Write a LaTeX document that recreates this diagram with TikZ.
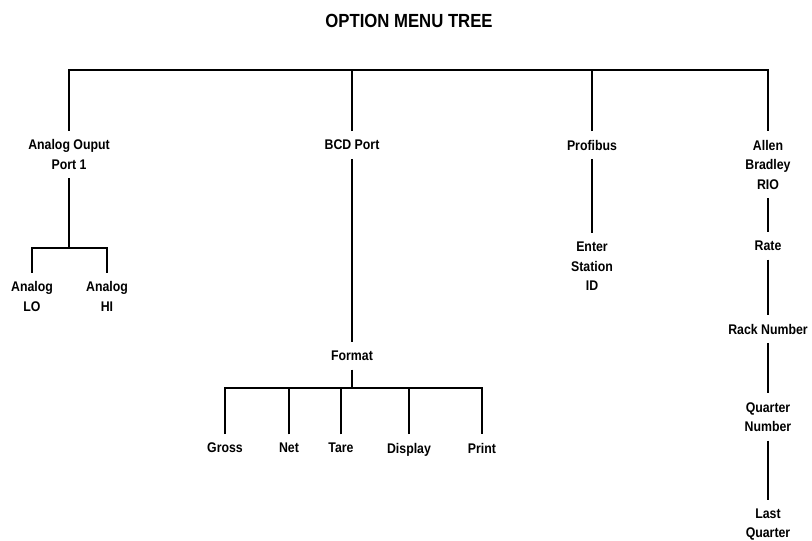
\documentclass[tikz,border=0pt]{standalone}
\usepackage{fontspec}
\setmainfont{Liberation Sans}[FakeStretch=0.88]
\usepackage{tikz}

\begin{document}
\begin{tikzpicture}[x=1pt, y=-1pt, line width=1.8pt,
        lbl/.style={align=center, inner xsep=2pt, inner ysep=8pt,
            font=\bfseries\fontsize{14}{19.5}\selectfont},
        lbleins/.style={lbl, text depth=0pt}]
            \useasboundingbox (0,0) rectangle (812,541);

            % Titel.
            \node[font=\bfseries\fontsize{19}{22}\selectfont] (titel) at (409,21) {OPTION MENU TREE};

            % Knoten.
            \node[lbl]     (ao)    at (69,154.5)  {Analog Ouput\\Port 1};
            \node[lbleins] (bcd)   at (352,145)   {BCD Port};
            \node[lbleins] (prof)  at (592,145)   {Profibus};
            \node[lbl]     (ab)    at (768,164.5) {Allen\\Bradley\\RIO};

            \node[lbl]     (alo)   at (32,296.5)  {Analog\\LO};
            \node[lbl]     (ahi)   at (107,296.5) {Analog\\HI};

            \node[lbleins] (fmt)   at (352,356)   {Format};
            \node[lbleins] (gross) at (225,448)   {Gross};
            \node[lbleins] (net)   at (289,448)   {Net};
            \node[lbleins] (tare)  at (341,448)   {Tare};
            \node[lbleins] (disp)  at (409,448)   {Display};
            \node[lbleins] (print) at (482,448)   {Print};

            \node[lbl]     (sid)   at (592,266.5) {Enter\\Station\\ID};

            \node[lbleins] (rate)  at (768,246)   {Rate};
            \node[lbleins] (rack)  at (768,329)   {Rack Number};
            \node[lbl]     (qn)    at (768,417)   {Quarter\\Number};
            \node[lbl]     (lq)    at (768,524.5) {Last\\Quarter};

            % Linien.
            \coordinate (top)  at (400,70);
            \coordinate (abar) at (69,248);
            \coordinate (fbar) at (352,388);

            \draw (ao.north) |- (top) -| (ab.north);
            \foreach \n in {bcd,prof}
            {
                \draw (\n.north) -- (\n.north |- top);
            }

            \draw (ao.south) -- (abar);
            \draw (alo.north) |- (abar) -| (ahi.north);

            \draw (bcd) -- (fmt);
            \draw (fmt.south) -- (fbar);
            \draw (gross.north) |- (fbar) -| (print.north);
            \foreach \n in {net,tare,disp}
            {
                \draw (\n.north) -- (\n.north |- fbar);
            }

            \draw (prof) -- (sid);
            \draw (ab) -- (rate) -- (rack) -- (qn) -- (lq);
\end{tikzpicture}
\end{document}
